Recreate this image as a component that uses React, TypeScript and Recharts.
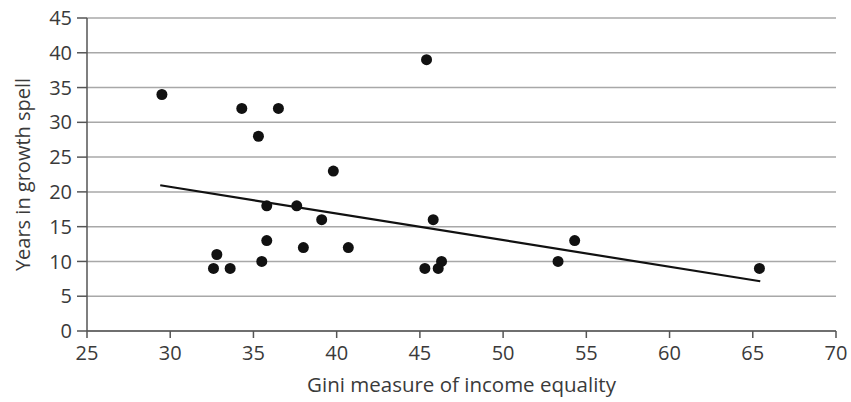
import { CartesianGrid, ReferenceLine, Scatter, ScatterChart, XAxis, YAxis } from "recharts";

// Gini coefficient vs. length of growth spell
const gini = [
  29.5, 34.3, 36.5, 35.3, 45.4, 39.8, 35.8, 37.6, 39.1, 45.8, 35.8, 54.3,
  38.0, 40.7, 32.8, 35.5, 46.3, 53.3, 32.6, 33.6, 45.3, 46.1, 65.4,
];
const years = [
  34, 32, 32, 28, 39, 23, 18, 18, 16, 16, 13, 13,
  12, 12, 11, 10, 10, 10, 9, 9, 9, 9, 9,
];
const trendX = [29.4, 65.45];
const trendY = [20.95, 7.15];
const xTicks = [25, 30, 35, 40, 45, 50, 55, 60, 65, 70];
const yTicks = [0, 5, 10, 15, 20, 25, 30, 35, 40, 45];

const points = gini.map((g, i) => ({ gini: g, years: years[i] }));
const trend = trendX.map((x, i) => ({ x, y: trendY[i] }));

const FONT = "'Open Sans', sans-serif";
const INK = "#3a3a3a";

function YLabel({ viewBox }: any) {
  const x = viewBox.x + 30;
  const y = viewBox.y + viewBox.height / 2;
  return (
    <text x={x} y={y} transform={`rotate(-90 ${x} ${y})`} textAnchor="middle" fill={INK} fontSize={20} fontFamily={FONT}>
      Years in growth spell
    </text>
  );
}

function XLabel({ viewBox }: any) {
  return (
    <text x={viewBox.x + viewBox.width / 2} y={392} textAnchor="middle" fill={INK} fontSize={20.5} fontFamily={FONT}>
      Gini measure of income equality
    </text>
  );
}

export default function App() {
  const tick = { fill: INK, fontSize: 20, fontFamily: FONT };
  return (
    <div style={{ position: "absolute", left: 0, top: 0, background: "#fff" }}>
      <ScatterChart width={851} height={402} margin={{ top: 18, right: 15, bottom: 0, left: 0 }}>
        <CartesianGrid vertical={false} stroke="#a8a8a8" strokeWidth={1.5} />
        <XAxis
          type="number"
          dataKey="gini"
          domain={[25, 70]}
          ticks={xTicks}
          interval={0}
          height={71}
          tickSize={7}
          tickMargin={8}
          tick={tick}
          stroke="#555"
          strokeWidth={1.5}
          label={<XLabel />}
        />
        <YAxis
          type="number"
          dataKey="years"
          domain={[0, 45]}
          ticks={yTicks}
          interval={0}
          width={87}
          tickSize={10}
          tickMargin={5}
          tick={tick}
          stroke="#555"
          strokeWidth={1.5}
          label={<YLabel />}
        />
        <Scatter data={points} fill="#111" isAnimationActive={false} shape={(p: any) => <circle cx={p.cx} cy={p.cy} r={5.5} fill="#111" />} />
        <ReferenceLine
          segment={[trend[0], trend[1]]}
          stroke="#111"
          strokeWidth={2.2}
          ifOverflow="visible"
        />
      </ScatterChart>
    </div>
  );
}
